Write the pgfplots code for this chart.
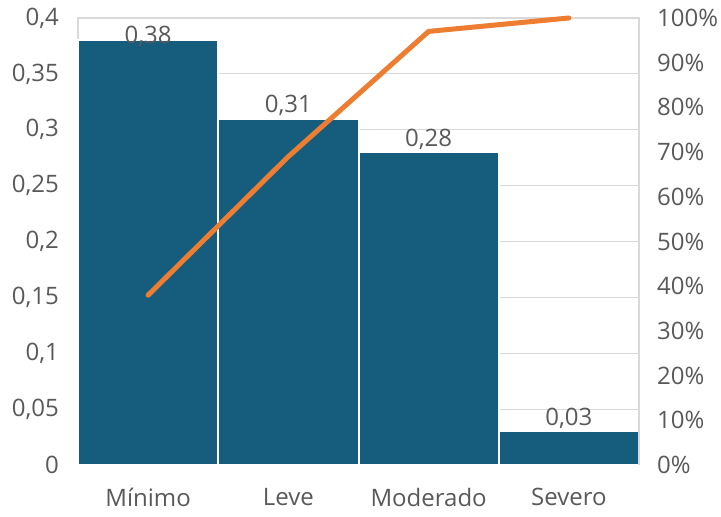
\documentclass[border=0pt]{standalone}
\usepackage{pgfplots}
\pgfplotsset{compat=1.18}
\usepackage{pgfplotstable}
\usepackage{fontspec}
\setmainfont{Open Sans}

\definecolor{barblue}{RGB}{22,92,125}
\definecolor{lineorange}{RGB}{237,125,49}
\definecolor{txtgray}{RGB}{89,89,89}
\definecolor{gridgray}{RGB}{217,217,217}

% share per category, cumulative share, printed label
\pgfplotstableread{
x  val   cum   lbl
0  0.38  0.38  0,38
1  0.31  0.69  0,31
2  0.28  0.97  0,28
3  0.03  1.00  0,03
}\severity

\pgfplotsset{
  common/.style={
    at={(0,0)}, anchor=south west,
    scale only axis, width=280.5pt, height=223.5pt,
    xmin=-0.5, xmax=3.5,
    major tick length=0pt,
    tick label style={font=\fontsize{12}{14}\selectfont, text=txtgray},
    axis line style={gridgray, line width=0.6pt},
  },
  vlabel/.style={
    draw=none, mark=none, forget plot,
    point meta=explicit symbolic,
    nodes near coords,
    nodes near coords style={anchor=base, inner sep=0pt, yshift=#1,
      font=\fontsize{12}{14}\selectfont, text=txtgray},
  },
}

\begin{document}
\begin{tikzpicture}
\useasboundingbox (-39pt,-26pt) rectangle (321.5pt,232.5pt);

\begin{axis}[
  common,
  ymin=0, ymax=0.4,
  ytick={0,0.05,0.1,0.15,0.2,0.25,0.3,0.35,0.4},
  yticklabels={0,{0,05},{0,1},{0,15},{0,2},{0,25},{0,3},{0,35},{0,4}},
  yticklabel style={xshift=-6pt},
  xtick={0,1,2,3},
  xticklabels={Mínimo,Leve,Moderado,Severo},
  xticklabel style={yshift=-8pt},
  ymajorgrids,
  grid style={gridgray, line width=0.6pt},
  clip=false,
]
\addplot[ybar, bar width=1, fill=barblue, draw=white, line width=1pt]
  table[x=x, y=val] {\severity};
% value labels: the tallest bar's label sits on its top edge
\addplot[vlabel=-1.4pt, skip coords between index={1}{4}]
  table[x=x, y=val, meta=lbl] {\severity};
\addplot[vlabel=3pt, skip coords between index={0}{1}]
  table[x=x, y=val, meta=lbl] {\severity};
\end{axis}

\begin{axis}[
  common,
  axis x line=none,
  axis y line*=right,
  ymin=0, ymax=1,
  ytick={0,0.1,0.2,0.3,0.4,0.5,0.6,0.7,0.8,0.9,1},
  yticklabels={0\%,10\%,20\%,30\%,40\%,50\%,60\%,70\%,80\%,90\%,100\%},
  yticklabel style={xshift=5.5pt},
  clip=false,
]
\addplot[lineorange, line width=2.5pt, line cap=round, line join=round, mark=none]
  table[x=x, y=cum] {\severity};
\end{axis}
\end{tikzpicture}
\end{document}
